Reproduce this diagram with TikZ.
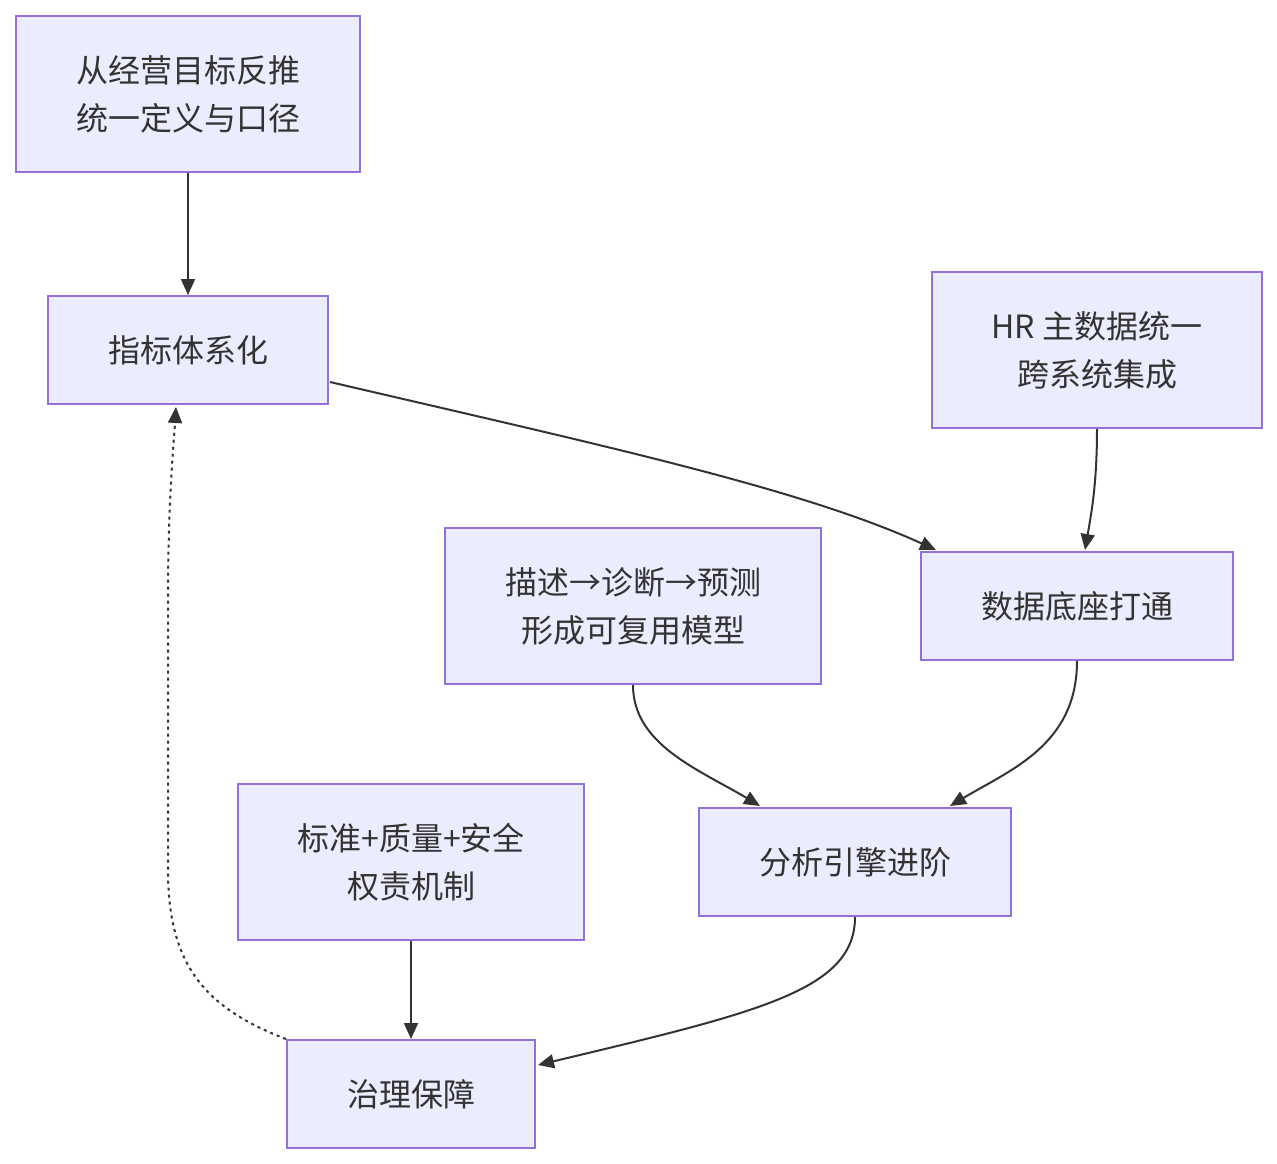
\documentclass[tikz,border=0pt]{standalone}
\usepackage{fontspec}
\setmainfont{Noto Sans CJK SC}
\usetikzlibrary{arrows.meta,calc}
\definecolor{nodefill}{HTML}{ECECFF}
\definecolor{nodeborder}{HTML}{9370DB}
\definecolor{edgecol}{HTML}{333333}
\begin{document}
\begin{tikzpicture}[x=1pt,y=-1pt,
  box/.style={draw=nodeborder,fill=nodefill,line width=2pt,align=center,
    text=edgecol,font=\fontsize{32}{48}\selectfont,inner sep=0pt},
  edge/.style={draw=edgecol,line width=2pt,-{Triangle[length=16pt,width=14pt]}},
  dotedge/.style={edge,dash pattern=on 3pt off 4pt}]
\useasboundingbox (0,0) rectangle (1277,1164);
\node[box,minimum width=344pt,minimum height=156pt] (A) at (188,94) {从经营目标反推\\统一定义与口径};
\node[box,minimum width=280pt,minimum height=108pt] (B) at (188,350) {指标体系化};
\node[box,minimum width=330pt,minimum height=156pt] (C) at (1097,350) {HR 主数据统一\\跨系统集成};
\node[box,minimum width=312pt,minimum height=108pt] (D) at (1077,606) {数据底座打通};
\node[box,minimum width=376pt,minimum height=156pt] (E) at (633,606) {描述→诊断→预测\\形成可复用模型};
\node[box,minimum width=312pt,minimum height=108pt] (F) at (855,862) {分析引擎进阶};
\node[box,minimum width=346pt,minimum height=156pt] (G) at (411,862) {标准+质量+安全\\权责机制};
\node[box,minimum width=248pt,minimum height=108pt] (H) at (411,1094) {治理保障};
\coordinate (bend) at (168,870);
\draw[edge] (A.south) -- (B.north);
\draw[edge] ($(B.east)+(1,32)$) .. controls (600,445) and (800,488) .. ($(D.north west)+(16,-1)$);
\draw[edge] (C.south) .. controls (1097,485) and (1091,515) .. ($(D.north)+(8,-1)$);
\draw[edge] (E.south) .. controls (633,745) and (700,770) .. ($(F.north west)+(62,-1)$);
\draw[edge] (D.south) .. controls (1077,745) and (1010,770) .. ($(F.north east)+(-62,-1)$);
\draw[edge] (F.south) .. controls (855,990) and (760,1012) .. ($(H.north east)+(2,26)$);
\draw[edge] (G.south) -- (H.north);
\draw[dotedge] (H.north west) .. controls (205,1008) and (168,965) .. (bend) -- (168,600) .. controls (168,500) and (174,440) .. ($(B.south west)+(129,2)$);
\end{tikzpicture}
\end{document}
